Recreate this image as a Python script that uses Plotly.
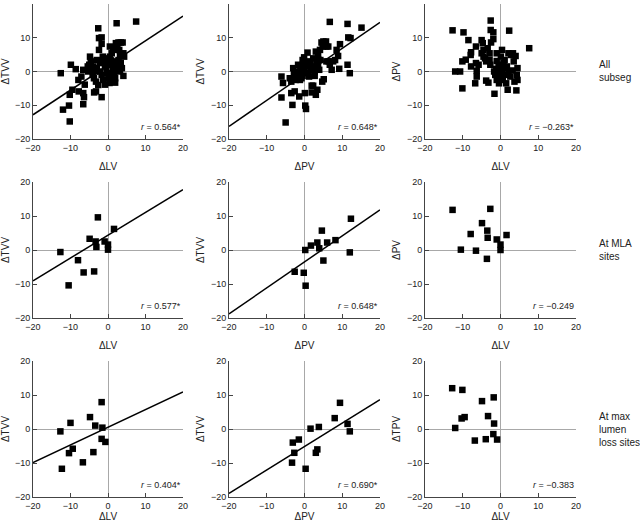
import plotly.graph_objects as go

# ---------------- data ----------------
# Row 1: All subseg
p1_lv = [-12.6,-12,-10.4,-10.2,-10.2,-9.9,-9.5,-8.6,-7.9,-7.8,-6.6,-6.6,-6.4,-6.6,-6.2,-7.1,-4.8,-4.6,-4.4,-3.9,
         -3.7,-3.2,-3,-2.6,-2.4,-1.7,-2.4,-1.7,-1.7,-2.1,-1.3,-3,-2.1,-1.7,-1.3,-0.8,-0.5,-0.4,-0.2,0.1,
         0.4,0.5,1,0.5,0.8,1.3,1.4,1.7,1.9,1.9,0.5,1.4,1.9,2.3,2.1,2.8,3.4,3.9,2.5,3,
         3.2,2.8,3.4,3.7,3.2,4.1,4.3,4.1,2.8,2.3,7.5,-5.3,-3.5,-4.1,-3.75,-3.2,-2.6,-0.8,-0.1,0.2,
         -0.5,1,1.3,2.5,-5,-5.4,-1.4]
p1_tvv = [-0.5,-11.3,-10.1,-14.8,-6.9,2,-5.4,0.7,-2.5,-5.9,0.5,-6.4,-7.6,-9.7,-3.9,-1.5,4.4,3,0.5,1.5,
          -6.2,-5.9,3.4,12.8,9.9,10.1,6.4,8.2,-7.6,2.5,3.4,1,0,-1,-2.5,-3.9,2.5,1,-0.5,-2,
          -3.4,7.4,5.4,4.4,3.3,2,0.5,-1,-2,-3.3,-3,6.9,6.4,14.3,8.4,8.6,8.6,8.6,7.9,6.4,
          4.9,3.4,2.5,1,0,5.4,4.4,-1.3,1.5,3,14.8,0,0,-1,-2,-3,-4,1.5,2,3.9,
          3,-1,-2.5,0.5,2,1.5,4.4]

p2_pv = [-6.1,-5.7,-6.1,-5,-3.9,-3.5,-3.5,-3.2,-3,-2.8,-2.6,-2.6,-2.3,-2.1,-1.7,-1.4,-1.2,-1.1,-0.8,-0.5,
         -0.4,-0.1,-0.1,0.1,0.2,0.4,0.5,0.7,0.8,1,1.2,1.6,1.7,1.9,1.9,2.3,2.5,2.7,2.7,3,
         3,3.2,3.4,3.6,3.6,3.9,4.1,4.2,4.5,4.7,4.8,5,5.1,5.4,5.7,5.8,5.8,6.3,6.4,6.7,
         6.7,7.2,7.6,8.1,8.5,8.9,9.2,9.4,11.4,11.4,11.6,12,12.2,15.1,2.3,3.6,1.2,-1.2,-1.7,-0.5]
p2_tvv = [-1.5,-3.4,-7.7,-15.1,-2,-3,-6.4,-9.9,1,-0.5,-1.3,-5.9,-2.5,0,2,-7.4,-1,0.5,-2,3.4,
          2,4.2,0.5,-6.4,-10.1,-11.1,1.5,3,5.6,-0.5,-1.5,2.5,0.5,-4.2,-6.2,-4.2,1.5,0,-1.3,5.9,
          -6.9,3,-5.4,4.9,2,0.5,6.4,3.4,8.6,-3,7.4,8.9,-2.3,8.4,8.9,7.4,3,7.4,3,14.7,
          2,0.5,3,3.4,6.4,4.6,0.8,8.1,2,14.1,10.1,-0.5,9.9,13,3.9,3.6,1.5,-2.5,-1.5,-1.3]

p3_lv = [-12.7,-12,-10.7,-10.1,-10.1,-9.8,-9.2,-8.5,-7.9,-7.8,-7.8,-6.7,-6.5,-6.5,-6.3,-6.3,-5.8,-5,-5,-4.7,
         -4.5,-4.1,-3.8,-3.8,-3.4,-3.2,-2.9,-2.7,-2.6,-2.6,-2.5,-1.9,-1.9,-1.6,-1.7,-1.4,-1.2,-1,-0.8,-0.5,
         -0.4,-0.1,0.1,0.4,0.4,0.6,0.8,1.1,1.2,1.5,1.7,1.9,2.1,2.3,2.6,2.8,3.2,3.3,3.5,3.7,
         4,4.2,4.3,4.5,4.5,7.6,-0.5,-1,1,2.1,-2.9,-4.5,-1]
p3_pv = [12.2,0,0,3,-5,11.6,3.5,9.3,4.9,5.7,1.5,-3.5,2.5,7.4,0.2,-1.5,2,5.4,9.3,8.4,
         6.4,3.9,3,-2.7,6.9,-3.3,5.4,2,15.1,12.3,8.6,11.6,9.6,-6.6,0,-1,0.8,3.1,-2,2,
         -3.5,-1,4.4,6.4,0.3,-2.5,2.5,3.4,-1,-3.5,1.5,-5.4,5.4,12.1,-1.5,4.9,0.3,5.4,3,-3,
         4.6,-5.6,-1,1,-2.5,6.9,0,-2.5,1,0,3.5,4.4,5.4]

# Row 2: At MLA sites
p4_lv = [-12.7,-10.5,-8,-6.5,-4.9,-3.7,-3.3,-3.1,-2.7,-0.9,0,0,1.6]
p4_tvv = [-0.6,-10.4,-3,-6.6,3.3,-6.3,2.5,0.9,9.6,2.5,1.6,0.1,6.2]

p5_pv = [-2.6,-0.2,0.2,0.3,1.7,3.4,3.9,4.6,5,6,8.2,12,12.3]
p5_tvv = [-6.4,-6.7,0,-10.5,1.3,2.2,0.5,5.7,-3.1,2.2,2.9,-0.7,9.2]

p6_lv = [-12.7,-10.5,-7.9,-6.5,-4.9,-3.5,-3.4,-3.6,-2.7,-1,0,0,1.6]
p6_pv = [11.8,0.1,4.7,-0.2,7.9,5.7,3.6,-2.6,12.1,3.1,1.6,0,4.4]

# Row 3: At max lumen loss sites
p7_lv = [-12.7,-12.3,-10,-10.4,-9.4,-6.7,-4.8,-3.9,-3.4,-1.7,-1.5,-1.7,-0.7]
p7_tvv = [-0.7,-11.7,1.8,-7.1,-5.8,-9.8,3.5,-6.8,1,7.9,0.4,-2.9,-3.8]

p8_pv = [-3.3,-3.1,-2.7,-1.5,0.3,1.6,3,3.4,3.8,8,9.4,11.4,12]
p8_tvv = [-9.9,-4,-7,-3.1,-11.7,0.1,-7,-6,0.6,3.2,7.7,1.5,-0.7]

p9_lv = [-12.8,-12,-10.3,-10.1,-9.5,-6.8,-4.9,-3.9,-3.3,-1.8,-1.7,-1.9,-0.9]
p9_tpv = [12,0.3,3.1,11.5,3.5,-3.4,8.2,-3,3.8,9.3,1.6,-1.5,-3.1]

# regression fits (slope, intercept) and correlation labels
fit_slopes = [0.731, 0.77, None, 0.67, 0.765, None, 0.52, 0.69, None]
fit_intercepts = [1.8, -0.85, None, 4.35, -3.5, None, 0.5, -5.15, None]
r_labels = ["0.564*", "0.648*", "\u22120.263*", "0.577*", "0.648*", "\u22120.249", "0.404*", "0.690*", "\u22120.383"]

x_titles = ["\u0394LV", "\u0394PV", "\u0394LV"] * 3
y_titles = ["\u0394TVV", "\u0394TVV", "\u0394PV", "\u0394TVV", "\u0394TVV", "\u0394PV", "\u0394TVV", "\u0394TVV", "\u0394TPV"]
row_labels = ["All<br>subseg", "At MLA<br>sites", "At max<br>lumen<br>loss sites"]
tick_vals = [-20, -10, 0, 10, 20]
axis_range = [-20, 20]

xs = [p1_lv, p2_pv, p3_lv, p4_lv, p5_pv, p6_lv, p7_lv, p8_pv, p9_lv]
ys = [p1_tvv, p2_tvv, p3_pv, p4_tvv, p5_tvv, p6_pv, p7_tvv, p8_tvv, p9_tpv]

# ---------------- layout ----------------
W, H = 640, 522
col_px = [(33, 183), (229, 380), (425, 576)]
row_px = [(4, 139), (182, 318), (361, 497)]

FONT = "Liberation Sans, Arial, Helvetica, sans-serif"
TXT = "#222222"

fig = go.Figure()
layout = dict(
    width=W, height=H, margin=dict(l=0, r=0, t=0, b=0, autoexpand=False),
    paper_bgcolor="white", plot_bgcolor="white", showlegend=False,
    font=dict(family=FONT, size=9, color=TXT),
    annotations=[],
)

for i in range(9):
    r, c = divmod(i, 3)
    n = "" if i == 0 else str(i + 1)
    xa, ya = "x" + n, "y" + n
    x0, x1 = col_px[c]
    y0, y1 = row_px[r]
    common = dict(range=axis_range, tickvals=tick_vals, ticks="inside", ticklen=4,
                  tickcolor="#444", showline=True, linecolor="#444", linewidth=1,
                  showgrid=False, zeroline=True, zerolinecolor="#a8a8a8", zerolinewidth=1,
                  tickfont=dict(size=9, color=TXT), fixedrange=True, automargin=False)
    layout["xaxis" + n] = dict(domain=[x0 / W, x1 / W], anchor=ya,
                               title=dict(text=x_titles[i], font=dict(size=10, color=TXT), standoff=11),
                               **common)
    layout["yaxis" + n] = dict(domain=[1 - y1 / H, 1 - y0 / H], anchor=xa,
                               title=dict(text=y_titles[i], font=dict(size=10, color=TXT), standoff=4),
                               **common)
    fig.add_trace(go.Scatter(x=xs[i], y=ys[i], mode="markers", xaxis=xa, yaxis=ya,
                             marker=dict(symbol="square", size=6.5, color="black")))
    if fit_slopes[i] is not None:
        lx = axis_range
        ly = [fit_slopes[i] * v + fit_intercepts[i] for v in lx]
        fig.add_trace(go.Scatter(x=lx, y=ly, mode="lines", xaxis=xa, yaxis=ya,
                                 line=dict(color="black", width=1.5), cliponaxis=True))
    layout["annotations"].append(dict(
        x=19.9, y=-16.5, xref=xa, yref=ya, xanchor="right", yanchor="middle", showarrow=False,
        text="<i>r</i> = " + r_labels[i], font=dict(size=9, color=TXT)))

for r in range(3):
    y0, y1 = row_px[r]
    layout["annotations"].append(dict(
        x=597 / W, y=1 - ((y0 + y1) / 2) / H, xref="paper", yref="paper",
        xanchor="left", yanchor="middle", align="left", showarrow=False,
        text=row_labels[r], font=dict(size=10, color=TXT)))

fig.update_layout(**layout)
fig.write_html("out.html", config={"displayModeBar": False, "staticPlot": True},
               post_script="document.body.style.margin='0';document.body.style.padding='0';"
                           "document.body.style.overflow='hidden';")
